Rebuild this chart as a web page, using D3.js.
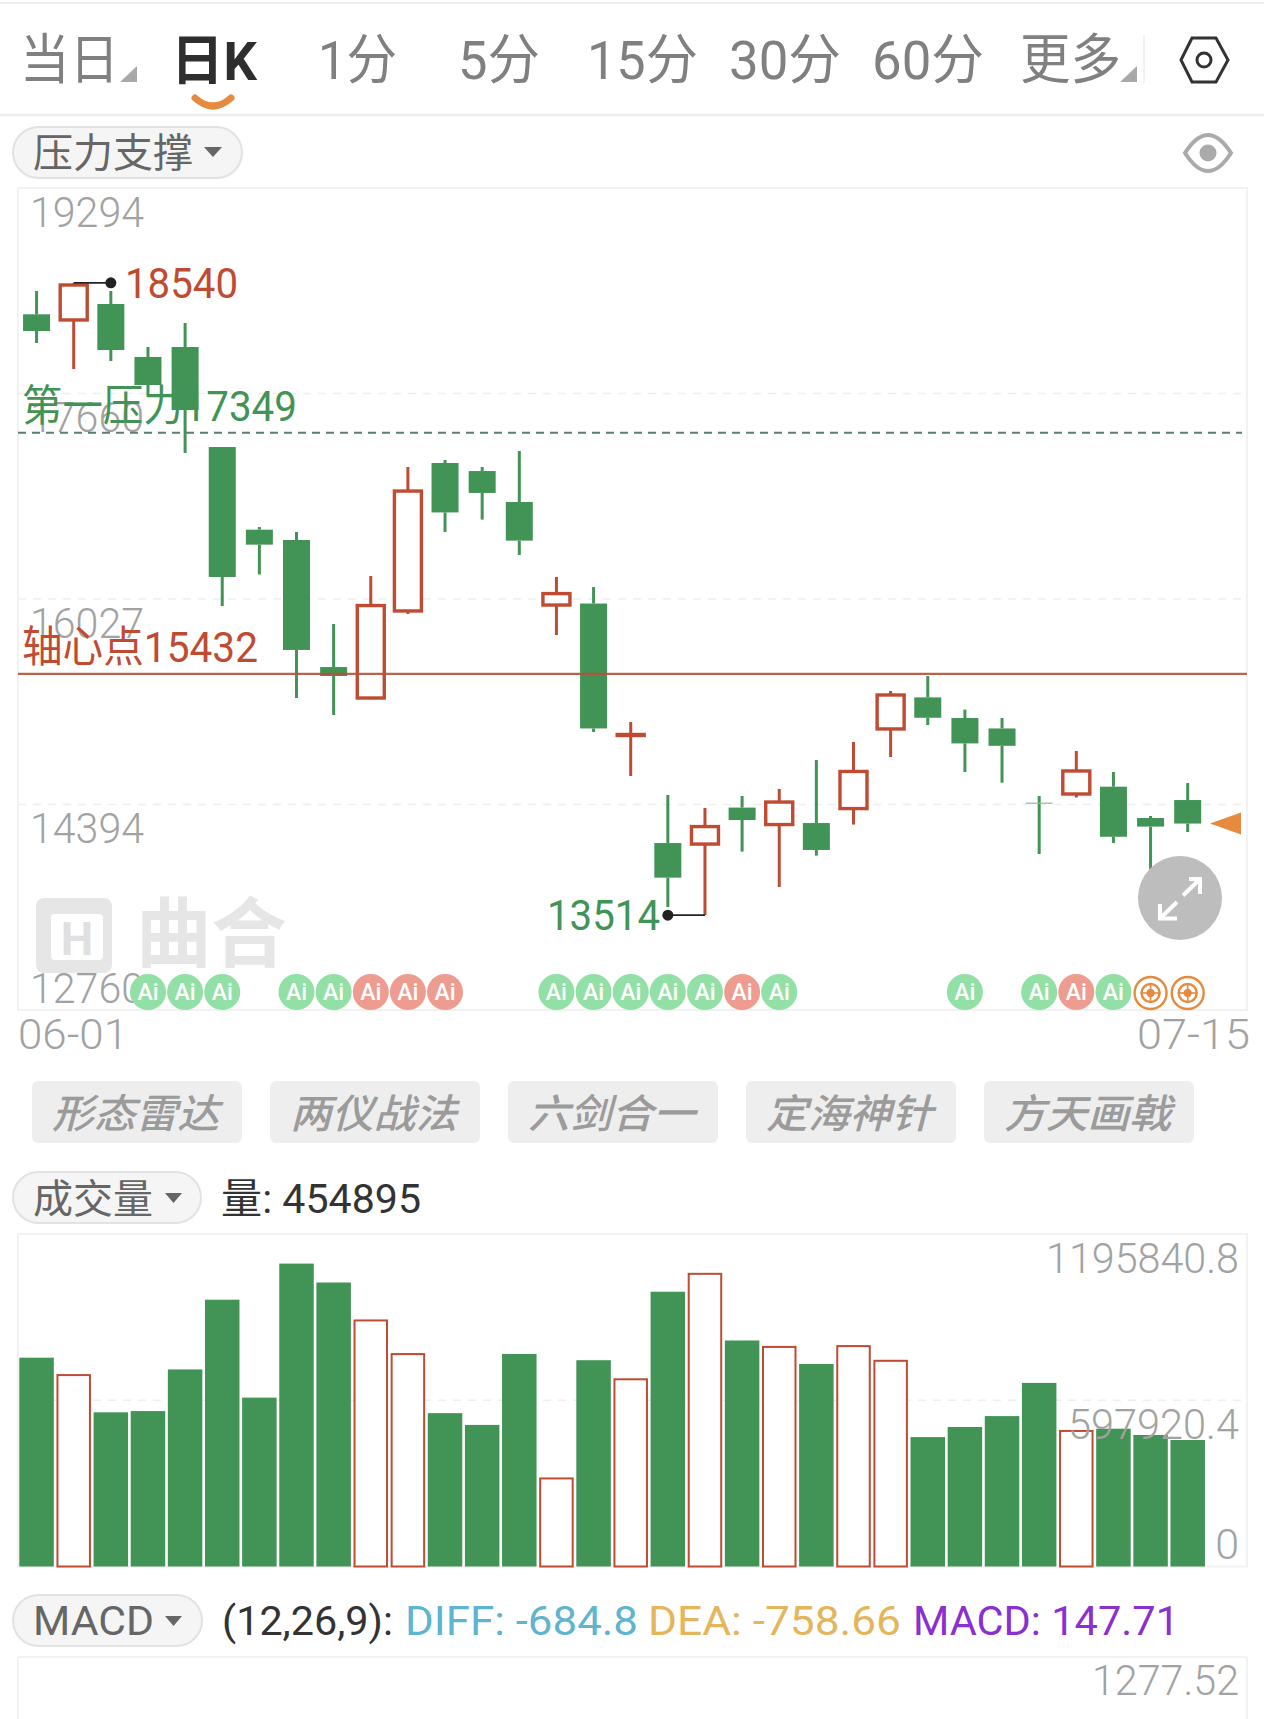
<!DOCTYPE html>
<html lang="zh-CN">
<head>
<meta charset="utf-8">
<title>K线图</title>
<script src="https://cdn.jsdelivr.net/npm/d3@7/dist/d3.min.js"></script>
<style>
html,body{margin:0;padding:0;background:#fff;}
svg{display:block;}
text{font-family:Roboto,"Noto Sans CJK SC",sans-serif;font-weight:300;}
</style>
</head>
<body>
<svg id="chart" width="1264" height="1719" viewBox="0 0 1264 1719"></svg>
<script>
// ---------- data ----------
const opens  = [18290,18245,18372,17951,18030,17235,16578,16496,15486,15240,15932,17108,17044,16798,15979,15991,14942,14087,14079,14369,14234,14246,14361,14994,15245,15081,14998,14405,14477,14535,14286,14429];
const highs  = [18475,18540,18475,18030,18221,17235,16599,16560,15828,16210,17076,17132,17076,17203,16202,16122,15049,14469,14366,14461,14517,14747,14890,15296,15415,15148,15081,14461,14819,14652,14302,14564];
const lows   = [18062,17855,17919,17649,17188,15971,16222,15240,15105,15240,15908,16560,16658,16377,15741,14970,14620,13579,13514,14019,13738,13987,14234,14771,15025,14652,14567,14000,14449,14087,13857,14175];
const closes = [18157,18523,18006,17728,17529,16202,16459,15622,15415,15975,16885,16715,16870,16491,16070,14998,14950,13812,14218,14270,14413,14032,14656,15264,15083,14879,14860,14405,14660,14137,14218,14242];
const volumes= [751000,692000,554500,559000,708700,959500,607400,1089400,1021400,888500,767600,551500,509200,764600,320300,741900,676900,988200,1056200,812900,793300,728300,796300,743400,465400,501700,540900,660300,491100,495600,472900,454895];
const priceTicks  = [19294,17660,16027,14394,12760];
const volumeTicks = [1195840.8,597920.4,0];
const dateLabels  = ["06-01","07-15"];
const aiUp   = [9,10,11,19,28];
const aiDown = [3,4,5,7,8,14,15,16,17,18,20,25,27,29];
const targets= [30,31];
const pressureLevel = 17349;
const pivotLevel = 15432;
const highMark = {index:1, value:18540};
const lowMark  = {index:18, value:13514};
const tabNames = ["当日","日K","1分","5分","15分","30分","60分","更多"];
const toolNames= ["形态雷达","两仪战法","六剑合一","定海神针","方天画戟"];

// ---------- style ----------
const GREEN="#429356", RED="#bf4b32", GREY="#a2a2a2", ORANGE="#e58a3f", LINE="#f2f2f2";
const svg=d3.select("#chart");
const left=18,right=1247;

function label(x,y,str,size,color,width,opt={}){
  const t=svg.append("text").attr("x",x).attr("y",y).attr("font-size",size).attr("fill",color).text(str);
  if(width){t.attr("textLength",width).attr("lengthAdjust","spacingAndGlyphs");}
  t.style("font-weight",opt.weight||300);
  if(opt.anchor)t.attr("text-anchor",opt.anchor);
  if(opt.italic)t.attr("font-style","italic");
  return t;
}
function hline(y,x1,x2,color,w){svg.append("line").attr("x1",x1).attr("x2",x2).attr("y1",y).attr("y2",y).attr("stroke",color).attr("stroke-width",w);}
function vline(x,y1,y2,color,w){svg.append("line").attr("x1",x).attr("x2",x).attr("y1",y1).attr("y2",y2).attr("stroke",color).attr("stroke-width",w);}
function poly(pts,fill){svg.append("polygon").attr("points",pts.map(p=>p.join(",")).join(" ")).attr("fill",fill);}
function pill(x,y,w,h){svg.append("rect").attr("x",x).attr("y",y).attr("width",w).attr("height",h).attr("rx",h/2).attr("fill","#f5f5f5").attr("stroke","#e2e2e2").attr("stroke-width",2);}

// ---------- header ----------
hline(3,0,1264,"#eeeeee",2);
hline(115,0,1264,"#eeeeee",2.5);
const tabBoxes=[[20,99],[171,86],[318,79],[458,82],[587,111],[729,112],[872,112],[1020,101]];
tabNames.forEach((n,i)=>{
  const active=i===1;
  label(tabBoxes[i][0],active?80:79,n,54,active?"#2e2e2e":"#808080",tabBoxes[i][1],{weight:active?700:400});
});
poly([[137,66],[137,82],[120,82]],"#a9a9a9");
poly([[1137,66],[1137,82],[1120,82]],"#a9a9a9");
vline(1144,35,83,"#eeeeee",1.5);
svg.append("path").attr("d","M195,98 Q213,114 231,98").attr("fill","none").attr("stroke",ORANGE).attr("stroke-width",7).attr("stroke-linecap","round");
svg.append("polygon").attr("points","1181,60 1192,38 1216,38 1228,60 1216,82 1192,82").attr("fill","none").attr("stroke","#333").attr("stroke-width",3);
svg.append("circle").attr("cx",1204).attr("cy",60).attr("r",7).attr("fill","none").attr("stroke","#333").attr("stroke-width",3);

pill(13,127,229,51);
label(33,167,"压力支撑",40,"#666",160,{weight:400});
poly([[204,147],[222,147],[213,157]],"#666");
svg.append("path").attr("d","M1185,153 Q1208,117 1231,153 Q1208,189 1185,153 Z").attr("fill","none").attr("stroke","#aaa").attr("stroke-width",4);
svg.append("circle").attr("cx",1208).attr("cy",153).attr("r",8.5).attr("fill","#aaa");

// ---------- scales ----------
const x=d3.scaleBand().domain(d3.range(33)).range([left,1243.4]);
const cx=i=>x(i)+x.bandwidth()/2;
const y=d3.scaleLinear().domain([12760,19294]).range([1010,188]);
const yVol=d3.scaleLinear().domain([0,1195840.8]).range([1566.5,1234]);

// ---------- price panel ----------
svg.append("rect").attr("x",left).attr("y",188).attr("width",right-left).attr("height",822).attr("fill","none").attr("stroke",LINE).attr("stroke-width",2);
svg.append("g").selectAll("line").data(priceTicks.slice(1,-1)).join("line")
  .attr("x1",left).attr("x2",right-2).attr("y1",d=>y(d)).attr("y2",d=>y(d))
  .attr("stroke","#efefef").attr("stroke-width",1.5).attr("stroke-dasharray","8 7");

// watermark
svg.append("rect").attr("x",36).attr("y",898).attr("width",76).attr("height",75).attr("rx",8).attr("fill","#e6e6e6");
svg.append("rect").attr("x",51).attr("y",914).attr("width",52).attr("height",46).attr("rx",4).attr("fill","#fff");
label(77,955,"H",46,"#e0e0e0",null,{weight:700,anchor:"middle"});
label(136,961,"曲合",76,"#e6e6e6",151,{weight:700});

const priceAxis=d3.axisRight(y).tickValues(priceTicks).tickSize(0).tickFormat(d3.format("d"));
const pa=svg.append("g").attr("transform",`translate(30,0)`).call(priceAxis);
pa.select(".domain").remove();
pa.selectAll("text").attr("x",0).attr("dy",null)
  .attr("y",(d,i)=>i===priceTicks.length-1?-8:38)
  .attr("font-size",43).attr("fill",GREY).attr("text-anchor","start")
  .attr("textLength",114).attr("lengthAdjust","spacingAndGlyphs");

// candles
const candles=d3.range(closes.length).map(i=>({i,o:opens[i],h:highs[i],l:lows[i],c:closes[i],up:[1,9,10,14,16,18,20,22,23,28].includes(i)}));
const gc=svg.append("g");
const bodyW=27;
candles.forEach(d=>{
  const col=d.up?RED:GREEN;
  const top=y(Math.max(d.o,d.c)),bot=y(Math.min(d.o,d.c));
  const g=gc.append("g");
  if(y(d.h)<top)g.append("line").attr("x1",cx(d.i)).attr("x2",cx(d.i)).attr("y1",y(d.h)).attr("y2",top).attr("stroke",col).attr("stroke-width",3);
  if(y(d.l)>bot)g.append("line").attr("x1",cx(d.i)).attr("x2",cx(d.i)).attr("y1",bot).attr("y2",y(d.l)).attr("stroke",col).attr("stroke-width",3);
  if(d.o===d.c){
    g.append("rect").attr("x",cx(d.i)-bodyW/2).attr("y",top-.5).attr("width",bodyW).attr("height",1.2).attr("fill","#8fbb9c");
  }else if(d.up){
    g.append("rect").attr("x",cx(d.i)-bodyW/2).attr("y",top).attr("width",bodyW).attr("height",bot-top).attr("fill","#fff").attr("stroke",col).attr("stroke-width",3.4);
  }else{
    g.append("rect").attr("x",cx(d.i)-bodyW/2).attr("y",top).attr("width",bodyW).attr("height",bot-top).attr("fill",col);
  }
});

// level lines
svg.append("line").attr("x1",left).attr("x2",right-5).attr("y1",y(pressureLevel)).attr("y2",y(pressureLevel)).attr("stroke","#5a8069").attr("stroke-width",2).attr("stroke-dasharray","8 6");
svg.append("line").attr("x1",left).attr("x2",right).attr("y1",y(pivotLevel)).attr("y2",y(pivotLevel)).attr("stroke","#b3533b").attr("stroke-width",2.2).attr("opacity",.9);
label(22,y(pressureLevel)-12,"第一压力"+pressureLevel,43,GREEN,275,{weight:400});
label(22,y(pivotLevel)-12,"轴心点"+pivotLevel,43,RED,236,{weight:400});

// high & low markers (dot sits on the neighbouring candle)
function marker(m,dir){
  const px=cx(m.index),dx=cx(m.index+dir),py=y(m.value);
  svg.append("line").attr("x1",px).attr("x2",dx).attr("y1",py).attr("y2",py).attr("stroke","#222").attr("stroke-width",1.8);
  svg.append("circle").attr("cx",dx).attr("cy",py).attr("r",5.5).attr("fill","#222");
}
marker(highMark,1); marker(lowMark,-1);
label(125,y(highMark.value)+15,String(highMark.value),43,RED,113,{weight:400});
label(547,y(lowMark.value)+15,String(lowMark.value),43,GREEN,113,{weight:400});

// last price pointer
const lastY=y(closes[closes.length-1]);
poly([[1210,lastY],[1241,lastY-11],[1241,lastY+11]],ORANGE);

// expand button
svg.append("circle").attr("cx",1180).attr("cy",898).attr("r",42).attr("fill","#bdbdbd");
svg.append("path").attr("d","M1183,895.5 L1200,879 M1189,879 L1200,879 L1200,894 M1177,902 L1160,918.5 M1160,904 L1160,918.5 L1177,918.5").attr("fill","none").attr("stroke","#fff").attr("stroke-width",4);

// signal badges
const yBadge=992;
function badge(i,color){
  svg.append("circle").attr("cx",cx(i)).attr("cy",yBadge).attr("r",18).attr("fill",color);
  label(cx(i),yBadge+8,"Ai",23,"#fff",null,{weight:500,anchor:"middle"});
}
aiDown.forEach(i=>badge(i,"#92e0a6"));
aiUp.forEach(i=>badge(i,"#ee9c90"));
targets.forEach(i=>{
  [16,9,3].forEach(r=>svg.append("circle").attr("cx",cx(i)).attr("cy",yBadge+1).attr("r",r).attr("fill",r===3?ORANGE:"none").attr("stroke",ORANGE).attr("stroke-width",2.4));
  vline(cx(i),yBadge-9,yBadge+11,ORANGE,1.6);
  hline(yBadge+1,cx(i)-10,cx(i)+10,ORANGE,1.6);
});

// date axis
label(18,1049,dateLabels[0],43,GREY,110);
label(1250,1049,dateLabels[1],43,GREY,113,{anchor:"end"});

// tool buttons
const toolX=[32,270,508,746,984];
toolNames.forEach((n,i)=>{
  svg.append("rect").attr("x",toolX[i]).attr("y",1081).attr("width",210).attr("height",62).attr("rx",6).attr("fill","#eeeeee");
  label(toolX[i]+20,1128,n,40,"#9b9b9b",167,{weight:500,italic:true});
});

// ---------- volume panel ----------
pill(13,1172,188,51);
label(33,1213,"成交量",40,"#666",120,{weight:400});
poly([[165,1193],[182,1193],[173.5,1203]],"#666");
label(221,1213,"量: 454895",41,"#333",200,{weight:400});
svg.append("rect").attr("x",left).attr("y",1234).attr("width",right-left).attr("height",332.5).attr("fill","none").attr("stroke",LINE).attr("stroke-width",2);
svg.append("line").attr("x1",left).attr("x2",right-5).attr("y1",yVol(volumeTicks[1])).attr("y2",yVol(volumeTicks[1])).attr("stroke","#efefef").attr("stroke-width",1.5).attr("stroke-dasharray","8 7");
const barW=34.5;
svg.append("g").selectAll("rect").data(candles).join("rect")
  .attr("x",d=>cx(d.i)-(d.up?barW/2-1:barW/2)).attr("width",d=>d.up?barW-2:barW)
  .attr("y",d=>yVol(volumes[d.i])+(d.up?1:0)).attr("height",d=>yVol(0)-yVol(volumes[d.i])-(d.up?1:0))
  .attr("fill",d=>d.up?"#fff":GREEN).attr("stroke",d=>d.up?RED:"none").attr("stroke-width",2);
const volAxis=d3.axisLeft(yVol).tickValues(volumeTicks).tickSize(0).tickFormat(d=>String(d));
const va=svg.append("g").attr("transform","translate(1239,0)").call(volAxis);
va.select(".domain").remove();
va.selectAll("text").attr("x",0).attr("dy",null)
  .attr("y",(d,i)=>i===2?-8:38)
  .attr("font-size",43).attr("fill",GREY).attr("text-anchor","end")
  .each(function(d){ if(d===volumeTicks[0]) d3.select(this).attr("textLength",193).attr("lengthAdjust","spacingAndGlyphs");
                     if(d===volumeTicks[1]) d3.select(this).attr("textLength",171).attr("lengthAdjust","spacingAndGlyphs"); });

// ---------- MACD panel ----------
pill(13,1595,189,51);
label(33,1635,"MACD",40,"#666",121,{weight:400});
poly([[165,1616],[182,1616],[173.5,1626]],"#666");
label(222,1635,"(12,26,9):",41,"#333",171,{weight:400});
label(405,1635,"DIFF: -684.8",41,"#5fb4cf",233,{weight:400});
label(648,1635,"DEA: -758.66",41,"#e5b55c",253,{weight:400});
label(913,1635,"MACD: 147.71",41,"#8a2fd0",266,{weight:400});
svg.append("line").attr("x1",left).attr("x2",right).attr("y1",1657).attr("y2",1657).attr("stroke",LINE).attr("stroke-width",2);
vline(left,1657,1719,LINE,2);
vline(right,1657,1719,LINE,2);
label(1239,1695,"1277.52",43,GREY,147,{anchor:"end"});
</script>
</body>
</html>
